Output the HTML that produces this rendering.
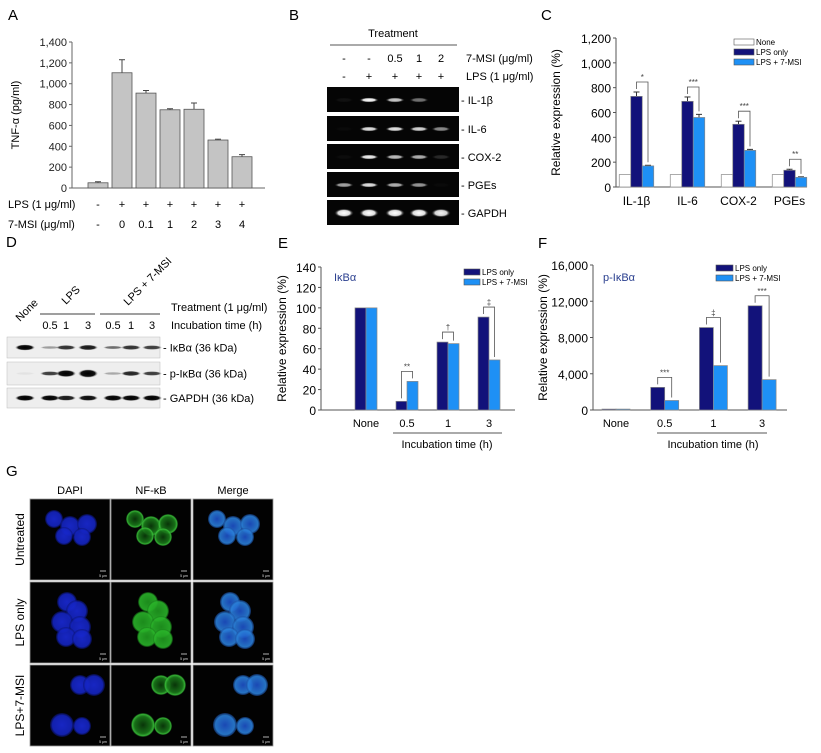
<!DOCTYPE html>
<html><head><meta charset="utf-8">
<style>
html,body{margin:0;padding:0;background:#fff;}
svg{display:block;font-family:"Liberation Sans",Arial,sans-serif;}
</style></head>
<body>
<svg id="fig" width="821" height="753" viewBox="0 0 821 753" xmlns="http://www.w3.org/2000/svg">
<defs>
<radialGradient id="gBlue" cx="50%" cy="50%" r="50%"><stop offset="0" stop-color="#1a2ad8"/><stop offset="0.8" stop-color="#1424c0"/><stop offset="1" stop-color="#0a1270" stop-opacity="0.6"/></radialGradient>
<radialGradient id="gGreenRing" cx="50%" cy="50%" r="50%"><stop offset="0" stop-color="#0a3a0a"/><stop offset="0.7" stop-color="#1a7a1a"/><stop offset="0.9" stop-color="#3ac23a"/><stop offset="1" stop-color="#1a6a1a" stop-opacity="0.4"/></radialGradient>
<radialGradient id="gGreenFull" cx="50%" cy="50%" r="50%"><stop offset="0" stop-color="#1f9a1f"/><stop offset="0.85" stop-color="#2ab42a"/><stop offset="1" stop-color="#157015" stop-opacity="0.5"/></radialGradient>
<radialGradient id="gMerge" cx="50%" cy="50%" r="50%"><stop offset="0" stop-color="#1d50c8"/><stop offset="0.8" stop-color="#2a80d8"/><stop offset="1" stop-color="#1a4aa0" stop-opacity="0.6"/></radialGradient>
<radialGradient id="gBand" cx="50%" cy="50%" r="50%"><stop offset="0" stop-color="#fff"/><stop offset="0.6" stop-color="#ddd"/><stop offset="1" stop-color="#000" stop-opacity="0"/></radialGradient>
<radialGradient id="gWB" cx="50%" cy="50%" r="50%"><stop offset="0" stop-color="#000"/><stop offset="0.7" stop-color="#111"/><stop offset="1" stop-color="#888" stop-opacity="0"/></radialGradient>
</defs>

<!-- Panel labels -->
<text x="8" y="20" font-size="15">A</text>
<text x="289" y="20" font-size="15">B</text>
<text x="541" y="20" font-size="15">C</text>
<text x="6" y="247" font-size="15">D</text>
<text x="278" y="248" font-size="15">E</text>
<text x="538" y="248" font-size="15">F</text>
<text x="6" y="476" font-size="15">G</text>

<g id="panelA"></g>
<g id="panelB"></g>
<g id="panelC"></g>
<g id="panelD"></g>
<g id="panelE"></g>
<g id="panelF"></g>
<g id="panelG"></g>
</svg>

<script>
// ---------- Data ----------
const aCategories = ["0-", "0", "0.1", "1", "2", "3", "4"];
const aLps = ["-", "+", "+", "+", "+", "+", "+"];
const aMsi = ["-", "0", "0.1", "1", "2", "3", "4"];
const aValues = [50, 1105, 910, 750, 755, 460, 300];
const aErrors = [10, 125, 25, 10, 60, 8, 20];
const aTicks = [0, 200, 400, 600, 800, 1000, 1200, 1400];
const aTickLabels = ["0", "200", "400", "600", "800", "1,000", "1,200", "1,400"];

const cCategories = ["IL-1β", "IL-6", "COX-2", "PGEs"];
const cNone = [100, 100, 100, 100];
const cLps = [730, 690, 505, 135];
const cMsi = [170, 560, 295, 78];
const cLpsErr = [35, 35, 25, 8];
const cMsiErr = [5, 25, 8, 4];
const cSig = ["*", "***", "***", "**"];
const cTicks = [0, 200, 400, 600, 800, 1000, 1200];
const cTickLabels = ["0", "200", "400", "600", "800", "1,000", "1,200"];

const eCategories = ["None", "0.5", "1", "3"];
const eLps = [100, 8.5, 66.5, 91];
const eMsi = [100, 28, 65, 49];
const eSig = ["", "**", "†", "‡"];
const eTicks = [0, 20, 40, 60, 80, 100, 120, 140];

const fCategories = ["None", "0.5", "1", "3"];
const fLps = [100, 2500, 9100, 11500];
const fMsi = [100, 1050, 4900, 3350];
const fSig = ["", "***", "‡", "***"];
const fTicks = [0, 4000, 8000, 12000, 16000];
const fTickLabels = ["0", "4,000", "8,000", "12,000", "16,000"];

const NS = "http://www.w3.org/2000/svg";
function mk(parent, tag, attrs, txt){
  const el = document.createElementNS(NS, tag);
  for (const k in attrs) el.setAttribute(k, attrs[k]);
  if (txt !== undefined) el.textContent = txt;
  parent.appendChild(el);
  return el;
}
const DARK = "#12127a", LIGHT = "#1e90f5";

// ---------- Panel A ----------
(function(){
  const g = document.getElementById("panelA");
  const x0 = 72, xEnd = 265, yBase = 188, yTop = 42, max = 1400;
  const y = v => yBase - (v / max) * (yBase - yTop);
  const xc = i => 98 + i * 24;
  let el = mk(g, "line", {x1:x0, y1:yTop, x2:x0, y2:yBase, stroke:"#666", "stroke-width":1});
  
  
  el = mk(g, "line", {x1:x0, y1:yBase, x2:xEnd, y2:yBase, stroke:"#666", "stroke-width":1});
  
  
  aTicks.forEach((t, i) => {
    mk(g, "line", {x1:x0-3, y1:y(t), x2:x0, y2:y(t), stroke:"#666"});
    el = mk(g, "text", {x:x0-5, y:y(t)+4, "font-size":11, "text-anchor":"end", fill:"#222"}, aTickLabels[i]);
    
    
  });
  aValues.forEach((v, i) => {
    const cx = xc(i);
    mk(g, "line", {x1:cx, y1:y(v), x2:cx, y2:y(v + aErrors[i]), stroke:"#444"});
    mk(g, "line", {x1:cx-3, y1:y(v + aErrors[i]), x2:cx+3, y2:y(v + aErrors[i]), stroke:"#444"});
    el = mk(g, "rect", {x:cx-10, y:y(v), width:20, height:yBase - y(v), fill:"#c4c4c4", stroke:"#555", "stroke-width":0.8});
    
    
    el = mk(g, "text", {x:cx, y:208, "font-size":11, "text-anchor":"middle"}, aLps[i]);
    
    
    el = mk(g, "text", {x:cx, y:228, "font-size":11, "text-anchor":"middle"}, aMsi[i]);
    
    
  });
  el = mk(g, "text", {x:8, y:208, "font-size":11}, "LPS (1 μg/ml)");
  
  
  el = mk(g, "text", {x:8, y:228, "font-size":11}, "7-MSI (μg/ml)");
  
  
  el = mk(g, "text", {x:0, y:0, "font-size":11, "text-anchor":"middle", transform:"translate(19,115) rotate(-90)"}, "TNF-α (pg/ml)");
  
  
})();

// ---------- Panel B (gel) ----------
const bLanes = [344, 369, 395, 419, 441];
const bRows = ["IL-1β", "IL-6", "COX-2", "PGEs", "GAPDH"];
const bIntensity = [
  [0.05, 1, 0.8, 0.45, 0],
  [0.02, 0.9, 0.9, 0.85, 0.55],
  [0.03, 0.95, 0.75, 0.7, 0.15],
  [0.65, 0.9, 0.7, 0.6, 0.02],
  [1, 1, 1, 1, 0.95]
];
(function(){
  const g = document.getElementById("panelB");
  let el = mk(g, "text", {x:393, y:37, "font-size":11, "text-anchor":"middle"}, "Treatment");
  
  
  mk(g, "line", {x1:330, y1:45, x2:457, y2:45, stroke:"#555", "stroke-width":1});
  const msi = ["-", "-", "0.5", "1", "2"], lps = ["-", "+", "+", "+", "+"];
  bLanes.forEach((x, i) => {
    el = mk(g, "text", {x:x, y:62, "font-size":11, "text-anchor":"middle"}, msi[i]);
    
    
    el = mk(g, "text", {x:x, y:80, "font-size":11, "text-anchor":"middle"}, lps[i]);
    
    
  });
  el = mk(g, "text", {x:466, y:62, "font-size":11}, "7-MSI (μg/ml)");
  
  
  el = mk(g, "text", {x:466, y:80, "font-size":11}, "LPS (1 μg/ml)");
  
  
  const tops = [87, 116, 144, 172, 200];
  bRows.forEach((r, ri) => {
    const t = tops[ri];
    el = mk(g, "rect", {x:327, y:t, width:132, height:25, fill:"#050505"});
    
    
    bLanes.forEach((x, li) => {
      const a = bIntensity[ri][li];
      if (a > 0.01) {
        el = mk(g, "ellipse", {cx:x, cy:t+13, rx:10, ry: ri === 4 ? 4.5 : 2.5, fill:"url(#gBand)", opacity:a});
        
        
      }
    });
    el = mk(g, "text", {x:461, y:t+17, "font-size":11}, "- " + r);
    
    
  });
})();

// grouped bar helper
function groupedChart(cfg){
  const g = document.getElementById(cfg.id);
  const y = v => cfg.yBase - (v / cfg.max) * (cfg.yBase - cfg.yTop);
  let el = mk(g, "line", {x1:cfg.x0, y1:cfg.yTop, x2:cfg.x0, y2:cfg.yBase, stroke:"#555"});
  
  
  el = mk(g, "line", {x1:cfg.x0, y1:cfg.yBase, x2:cfg.xEnd, y2:cfg.yBase, stroke:"#555"});
  
  
  cfg.ticks.forEach((t, i) => {
    mk(g, "line", {x1:cfg.x0-3, y1:y(t), x2:cfg.x0, y2:y(t), stroke:"#555"});
    el = mk(g, "text", {x:cfg.x0-5, y:y(t)+5, "font-size":cfg.tickFont, "text-anchor":"end"}, cfg.tickLabels[i]);
    
    
  });
  cfg.cats.forEach((c, i) => {
    const cx = cfg.c0 + i * cfg.gap;
    const w = cfg.bw;
    const series = cfg.series;
    const n = series.length;
    const start = cx - (cfg.centerOffset !== undefined ? cfg.centerOffset : n * w / 2);
    const tops = [];
    series.forEach((s, si) => {
      const v = s.values[i];
      const bx = start + si * w;
      tops.push({x: bx + w/2, y: y(v + (s.err ? s.err[i] : 0))});
      if (s.err) {
        mk(g, "line", {x1:bx+w/2, y1:y(v), x2:bx+w/2, y2:y(v+s.err[i]), stroke:"#333"});
        mk(g, "line", {x1:bx+w/2-3, y1:y(v+s.err[i]), x2:bx+w/2+3, y2:y(v+s.err[i]), stroke:"#333"});
      }
      el = mk(g, "rect", {x:bx, y:y(v), width:w, height:cfg.yBase - y(v), fill:s.color, stroke:s.stroke || "#888", "stroke-width":0.7});
      
      
    });
    el = mk(g, "text", {x:cx, y:cfg.labelY, "font-size":cfg.catFont, "text-anchor":"middle"}, c);
    
    
    if (cfg.sig[i]) {
      const a = tops[tops.length-2], b = tops[tops.length-1];
      const hy = Math.min(a.y, b.y) - 10;
      mk(g, "polyline", {points:`${a.x},${a.y-3} ${a.x},${hy} ${b.x},${hy} ${b.x},${b.y-3}`, fill:"none", stroke:"#555", "stroke-width":0.8});
      el = mk(g, "text", {x:(a.x+b.x)/2, y:hy-2, "font-size":8, "text-anchor":"middle", fill:"#444"}, cfg.sig[i]);
      
      
    }
  });
  el = mk(g, "text", {x:0, y:0, "font-size":12, "text-anchor":"middle", transform:`translate(${cfg.titleX},${(cfg.yTop+cfg.yBase)/2}) rotate(-90)`}, "Relative expression (%)");
  
  
  cfg.legend.forEach((l, i) => {
    const ly = cfg.legY + i * cfg.legStep;
    el = mk(g, "rect", {x:cfg.legX, y:ly, width:cfg.legW, height:6, fill:l.color, stroke:"#555", "stroke-width":0.6});
    
    
    el = mk(g, "text", {x:cfg.legX+cfg.legW+2, y:ly+6, "font-size":8}, l.label);
    
    
  });
}

groupedChart({id:"panelC", x0:616, xEnd:807, yBase:187, yTop:38, max:1200, ticks:cTicks, tickLabels:cTickLabels, tickFont:12,
  cats:cCategories, c0:636.5, gap:51, bw:11.5, labelY:205, catFont:12, sig:cSig, titleX:560,
  series:[{values:cNone, color:"#fff", name:"c-bar-none"},{values:cLps, err:cLpsErr, color:DARK, name:"c-bar-lps"},{values:cMsi, err:cMsiErr, color:LIGHT, name:"c-bar-lps-msi"}],
  legend:[{label:"None", color:"#fff"},{label:"LPS only", color:DARK},{label:"LPS + 7-MSI", color:LIGHT}], legX:734, legY:39, legStep:10, legW:20});

groupedChart({id:"panelE", x0:321, xEnd:515, yBase:410, yTop:267, max:140, ticks:eTicks, tickLabels:eTicks.map(String), tickFont:12,
  cats:eCategories, c0:366, gap:41, bw:11, labelY:427, catFont:11, sig:eSig, titleX:286,
  series:[{values:eLps, color:DARK, name:"e-bar-lps"},{values:eMsi, color:LIGHT, name:"e-bar-lps-msi"}],
  legend:[{label:"LPS only", color:DARK},{label:"LPS + 7-MSI", color:LIGHT}], legX:464, legY:269, legStep:10, legW:16});

groupedChart({id:"panelF", x0:593, xEnd:787, yBase:410, yTop:265, max:16000, ticks:fTicks, tickLabels:fTickLabels, tickFont:12,
  cats:fCategories, c0:616, gap:48.7, bw:14, labelY:427, catFont:11, sig:fSig, titleX:547,
  series:[{values:fLps, color:DARK, name:"f-bar-lps"},{values:fMsi, color:LIGHT, name:"f-bar-lps-msi"}],
  legend:[{label:"LPS only", color:DARK},{label:"LPS + 7-MSI", color:LIGHT}], legX:716, legY:265, legStep:10, legW:17});

(function(){
  [["panelE", 334, "IκBα", 393, 502, 447], ["panelF", 603, "p-IκBα", 657, 767, 713]].forEach(p => {
    const g = document.getElementById(p[0]);
    let el = mk(g, "text", {x:p[1], y:281, "font-size":11, fill:"#2a3f8f"}, p[2]);
    
    
    mk(g, "line", {x1:p[3], y1:433, x2:p[4], y2:433, stroke:"#555"});
    el = mk(g, "text", {x:p[5], y:448, "font-size":11, "text-anchor":"middle"}, "Incubation time (h)");
    
    
  });
})();

// ---------- Panel D (western blot) ----------
const dLanes = [25, 50, 66, 88, 113, 131, 152];
const dRows = ["IκBα (36 kDa)", "p-IκBα (36 kDa)", "GAPDH (36 kDa)"];
const dIntensity = [
  [1, 0.35, 0.8, 0.9, 0.55, 0.8, 0.75],
  [0.05, 0.75, 1.2, 1.4, 0.3, 0.85, 0.75],
  [1, 1, 0.9, 0.95, 1, 1, 1]
];
(function(){
  const g = document.getElementById("panelD");
  const tops = [337, 362, 388], hs = [21, 23, 20];
  dRows.forEach((r, ri) => {
    let el = mk(g, "rect", {x:7, y:tops[ri], width:153, height:hs[ri], fill:"#eeeeee", stroke:"#bbb", "stroke-width":0.5});
    
    
    dLanes.forEach((x, li) => {
      const a = dIntensity[ri][li];
      el = mk(g, "ellipse", {cx:x, cy:tops[ri]+hs[ri]/2, rx:10, ry:Math.max(1.5, 3*a), fill:"url(#gWB)", opacity:Math.min(1, a)});
      
      
    });
    el = mk(g, "text", {x:163, y:tops[ri]+hs[ri]/2+4, "font-size":11}, "- " + r);
    
    
  });
  const times = ["0.5", "1", "3", "0.5", "1", "3"];
  times.forEach((t, i) => {
    let el = mk(g, "text", {x:dLanes[i+1], y:329, "font-size":11, "text-anchor":"middle"}, t);
    
    
  });
  mk(g, "line", {x1:40, y1:314, x2:95, y2:314, stroke:"#666", "stroke-width":1.2});
  mk(g, "line", {x1:100, y1:314, x2:160, y2:314, stroke:"#666", "stroke-width":1.2});
  let el = mk(g, "text", {x:0, y:0, "font-size":11, transform:"translate(20,322) rotate(-45)"}, "None");
  
  
  el = mk(g, "text", {x:0, y:0, "font-size":11, transform:"translate(66,305) rotate(-45)"}, "LPS");
  
  
  el = mk(g, "text", {x:0, y:0, "font-size":11, transform:"translate(128,306) rotate(-45)"}, "LPS + 7-MSI");
  
  
  el = mk(g, "text", {x:171, y:311, "font-size":11}, "Treatment (1 μg/ml)");
  
  
  el = mk(g, "text", {x:171, y:329, "font-size":11}, "Incubation time (h)");
  
  
})();

// ---------- Panel G (micrographs) ----------
const gCols = ["DAPI", "NF-κB", "Merge"];
const gRowsLbl = ["Untreated", "LPS only", "LPS+7-MSI"];
(function(){
  const g = document.getElementById("panelG");
  const colX = [30, 111, 193], rowY = [499, 582, 665], W = 80, H = 81;
  const cells = [
    [[22,20,9],[38,27,10],[55,25,10],[32,37,9],[50,38,9]],
    [[35,20,10],[45,29,11],[30,40,11],[48,45,11],[34,55,10],[50,57,10]],
    [[48,20,10],[62,20,11],[30,60,12],[50,61,9]]
  ];
  gCols.forEach((c, ci) => {
    let el = mk(g, "text", {x:colX[ci]+W/2, y:494, "font-size":11, "text-anchor":"middle"}, c);
    
    
  });
  gRowsLbl.forEach((r, ri) => {
    let el = mk(g, "text", {x:0, y:0, "font-size":12, "text-anchor":"middle", transform:`translate(24,${rowY[ri]+H/2}) rotate(-90)`}, r);
    
    
    gCols.forEach((c, ci) => {
      el = mk(g, "rect", {x:colX[ci], y:rowY[ri], width:W, height:H, fill:"#020202", stroke:"#999", "stroke-width":0.8});
      
      
      const fill = ci === 0 ? "url(#gBlue)" : ci === 2 ? "url(#gMerge)" : (ri === 1 ? "url(#gGreenFull)" : "url(#gGreenRing)");
      cells[ri].forEach(cc => {
        el = mk(g, "circle", {cx:colX[ci]+cc[0]+2, cy:rowY[ri]+cc[1], r:cc[2], fill:fill, opacity:0.9});
        
        
      });
      mk(g, "line", {x1:colX[ci]+W-10, y1:rowY[ri]+H-9, x2:colX[ci]+W-4, y2:rowY[ri]+H-9, stroke:"#ddd", "stroke-width":0.8});
      el = mk(g, "text", {x:colX[ci]+W-7, y:rowY[ri]+H-3, "font-size":3.5, fill:"#ddd", "text-anchor":"middle"}, "5 μm");
      
      
    });
  });
})();
</script>
</body></html>
